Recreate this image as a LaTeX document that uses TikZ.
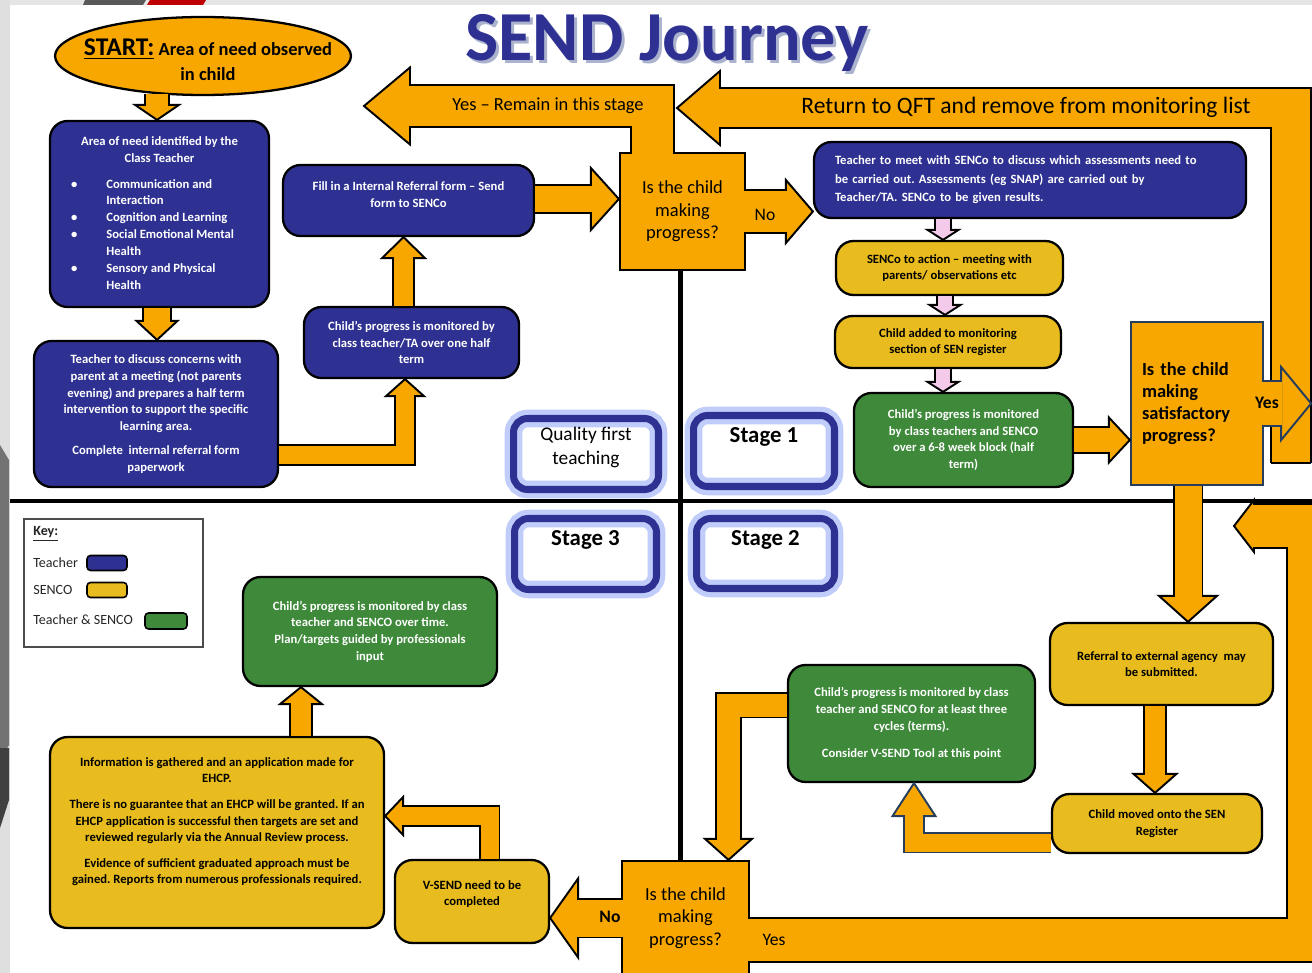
\documentclass[tikz,border=0pt]{standalone}
\usepackage{fontspec}
\setmainfont{Carlito}
\frenchspacing
\usetikzlibrary{calc,shapes.geometric}

\definecolor{tblue}{RGB}{46,49,146}
\definecolor{sorange}{RGB}{247,167,0}
\definecolor{syellow}{RGB}{232,187,30}
\definecolor{tgreen}{RGB}{62,138,58}
\definecolor{slate}{RGB}{38,62,92}
\definecolor{lpink}{RGB}{244,202,234}
\definecolor{glowblue}{RGB}{150,170,245}
\definecolor{titleshade}{RGB}{170,178,205}

\tikzset{
  box/.style={draw=black, line width=1.3pt, rounded corners=0.35cm, align=center,
    inner sep=2pt, font=\fontsize{7.2}{9.5}\selectfont\bfseries},
  tbox/.style={box, fill=tblue, text=white},
  sbox/.style={box, fill=syellow, text=black},
  gbox/.style={box, fill=tgreen, text=white},
  ask/.style={draw=black, line width=1.3pt, fill=sorange, align=center, inner sep=2pt,
    font=\fontsize{10.5}{12.8}\selectfont},
  stagebox/.style={draw=tblue, line width=4pt, rounded corners=0.28cm, align=center,
    preaction={fill=white}, preaction={draw=glowblue, line width=10pt, opacity=0.6},
    inner sep=2pt, font=\fontsize{13}{13.5}\selectfont\bfseries},
  shaft/.style={draw=black, line width=1.1pt, double=sorange, double distance=#1,
    shorten >=-0.7pt},
  pinkshaft/.style={shaft=#1, double=lpink},
  headstyle/.style={draw=black, fill=sorange, line width=1.1pt},
  pics/head/.style args={#1/#2}{code={
    \draw[headstyle] (0,0) -- (-#1,#2/2) -- (-#1,-#2/2) -- cycle;
    \coordinate (-base) at (-#1,0);
  }},
  lbl/.style={font=\fontsize{10}{12}\selectfont, inner sep=0pt},
  keyfont/.style={font=\fontsize{8}{9}\selectfont, inner sep=0pt, anchor=west, text=black!85},
  swatch/.style={draw=black, line width=0.9pt, rounded corners=2pt, inner sep=0pt,
    minimum width=0.8cm, minimum height=0.3cm},
}

\begin{document}
\begin{tikzpicture}[x=0.02cm, y=-0.02cm]
  \useasboundingbox (0,0) rectangle (1312,973);
  \clip (0,0) rectangle (1312,973);

  \fill[white] (0,0) rectangle (1312,973);
  \fill[gray!20] (0,0) rectangle (1312,5);
  \fill[gray!25] (0,0) rectangle (10,973);
  \fill[black!65] (85,0) -- (146,0) -- (143,5) -- (83,5) -- cycle;
  \fill[red!75!black] (150,0) -- (206,0) -- (203,5) -- (147,5) -- cycle;
  \fill[black!55] (0,445) -- (9,460) -- (9,745) -- (0,760) -- cycle;
  \fill[black!75] (0,748) -- (9,748) -- (9,800) -- (0,828) -- cycle;

  \node[font=\fontsize{40}{44}\selectfont\bfseries, text=tblue] (title) at (667,44)
    {\rlap{\hspace{1.7pt}\raisebox{-1.7pt}{\color{titleshade}SEND Journey}}SEND Journey};

  \node[ellipse, draw=black, line width=1.3pt, fill=sorange, minimum width=5.92cm,
    minimum height=1.56cm, inner sep=0pt] (start) at (203,56) {};
  \node[align=center, inner sep=0pt, font=\fontsize{10.5}{14}\selectfont\bfseries] (starttext) at ($(start.center)+(5,4)$)
    {{\fontsize{14.5}{14}\selectfont\underline{START:}} Area of need observed\\in child};

  \node[tbox, minimum width=4.38cm, minimum height=3.72cm, font=\fontsize{7.2}{9.6}\selectfont\bfseries] (need) at (159.5,214) {%
    \begin{tabular}{@{}l@{\hspace{5.8mm}}l@{\hspace{2.8mm}}}
      \multicolumn{2}{@{}c@{}}{Area of need identified by the}\\
      \multicolumn{2}{@{}c@{}}{Class Teacher}\\[5pt]
      \textbullet & Communication and\\
                  & Interaction\\
      \textbullet & Cognition and Learning\\
      \textbullet & Social Emotional Mental\\
                  & Health\\
      \textbullet & Sensory and Physical\\
                  & Health
    \end{tabular}};
  \node[tbox, minimum width=4.88cm, minimum height=2.92cm] (meet) at (156,414)
    {Teacher to discuss concerns with\\parent at a meeting (not parents\\evening) and prepares a half term\\intervention to support the specific\\learning area.\\[4pt]Complete \ internal referral form\\paperwork};
  \node[tbox, minimum width=4.3cm, minimum height=1.42cm] (watch) at (411.5,342.5)
    {Child’s progress is monitored by\\class teacher/TA over one half\\term};
  \node[tbox, minimum width=5.02cm, minimum height=1.42cm] (referral) at (408.5,200.5)
    {Fill in a Internal Referral form -- Send\\form to SENCo\\[-2.7pt]\mbox{}};
  \node[ask, minimum width=2.5cm, minimum height=2.34cm] (askone) at (682.5,211.5)
    {Is the child\\making\\progress?};
  \node[tbox, minimum width=8.64cm, minimum height=1.52cm, text width=7.8cm, align=left,
    font=\fontsize{7.2}{10.5}\selectfont\bfseries] (assess) at (1030,180)
    {Teacher to meet with SENCo to discuss which assessments need to\\be carried out. Assessments (eg SNAP) are carried out by\\Teacher/TA. SENCo to be given results.};
  \node[sbox, minimum width=4.54cm, minimum height=1.08cm] (action) at (949.5,268)
    {SENCo to action -- meeting with\\parents/ observations etc};
  \node[sbox, minimum width=4.52cm, minimum height=1.04cm] (added) at (948,342)
    {Child added to monitoring\\section of SEN register};
  \node[gbox, minimum width=4.38cm, minimum height=1.88cm] (monitor) at (963.5,440)
    {Child’s progress is monitored\\by class teachers and SENCO\\over a 6-8 week block (half\\term)};
  \node[ask, draw=slate, minimum width=2.64cm, minimum height=3.26cm, text width=2.2cm,
    align=left, font=\fontsize{10.5}{12.5}\selectfont\bfseries] (asktwo) at (1197,403.5)
    {Is the child\\making\\satisfactory\\progress?};

  \node[sbox, minimum width=4.46cm, minimum height=1.64cm] (external) at (1161.5,664)
    {Referral to external agency \ may\\be submitted.};
  \node[sbox, minimum width=4.2cm, minimum height=1.18cm] (register) at (1157,823.5)
    {Child moved onto the SEN\\Register};
  \node[gbox, minimum width=4.94cm, minimum height=2.34cm] (cycles) at (911.5,723.5)
    {Child’s progress is monitored by class\\teacher and SENCO for at least three\\cycles (terms).\\[6pt]Consider V-SEND Tool at this point};
  \node[ask, minimum width=2.54cm, minimum height=2.28cm] (askthree) at (685.5,918)
    {Is the child\\making\\progress?};
  \node[sbox, minimum width=3.08cm, minimum height=1.66cm] (vsend) at (472,901.5)
    {V-SEND need to be\\completed\\\mbox{}};
  \node[sbox, minimum width=6.68cm, minimum height=3.82cm] (ehcp) at (217,832.5)
    {Information is gathered and an application made for\\EHCP.\\[5pt]There is no guarantee that an EHCP will be granted. If an\\EHCP application is successful then targets are set and\\reviewed regularly via the Annual Review process.\\[5pt]Evidence of sufficient graduated approach must be\\gained. Reports from numerous professionals required.\\[4pt]\mbox{}};
  \node[gbox, minimum width=5.08cm, minimum height=2.18cm] (overtime) at (370,631.5)
    {Child’s progress is monitored by class\\teacher and SENCO over time.\\Plan/targets guided by professionals\\input};

  \node[stagebox, minimum width=2.9cm, minimum height=1.42cm,
    font=\fontsize{11}{13.5}\selectfont] (qft) at (586,454) {Quality first\\teaching\\[-4.5pt]\mbox{}};
  \node[stagebox, minimum width=2.82cm, minimum height=1.42cm] (stageone) at (764,451) {Stage 1\\[4.5pt]\mbox{}};
  \node[stagebox, minimum width=2.84cm, minimum height=1.42cm] (stagethree) at (585.5,554) {Stage 3\\[4.5pt]\mbox{}};
  \node[stagebox, minimum width=2.76cm, minimum height=1.4cm] (stagetwo) at (765.5,553.5) {Stage 2\\[4.5pt]\mbox{}};

  \node[draw=black!70, line width=0.8pt, minimum width=3.58cm, minimum height=2.56cm] (key) at (113.5,583) {};
  \node[keyfont, font=\fontsize{8}{9}\selectfont\bfseries] (keytitle) at (33,534) {\underline{Key:}};
  \node[keyfont] (keyteacher) at (33,563) {Teacher};
  \node[keyfont] (keysenco) at (33,590) {SENCO};
  \node[keyfont] (keyboth) at (33,620) {Teacher \& SENCO};
  \node[swatch, fill=tblue] (swteacher) at (107,563) {};
  \node[swatch, fill=syellow] (swsenco) at (107,590) {};
  \node[swatch, fill=tgreen, minimum width=0.84cm, minimum height=0.32cm] (swboth) at (166,621) {};

  \draw[line width=2.3pt] (10,501) -- (1312,501);
  \draw[line width=2.3pt] ($(askone.south)+(-2,0)$) -- ($(askone.south |- askthree.north)+(-2,0)$);

  % teacher side
  \pic[rotate=-90] (h1) at (need.north -| 157,0) {head=15/44};
  \draw[shaft=0.46cm] (h1-base |- start.218) -- (h1-base);
  \pic[rotate=-90] (h2) at (meet.north -| 157,0) {head=19/41};
  \draw[shaft=0.54cm] (h2-base |- need.south) -- (h2-base);
  \pic[rotate=90] (h3) at (watch.south -| 405,0) {head=17/38};
  \draw[shaft=0.36cm] (meet.east |- 0,455) -| (h3-base);
  \pic[rotate=90] (h4) at (referral.south -| 403.5,0) {head=21/43};
  \draw[shaft=0.38cm] (h4-base |- watch.north) -- (h4-base);
  \pic (h5) at (askone.west |- 0,199) {head=28/62};
  \draw[shaft=0.52cm] (referral.east |- h5-base) -- (h5-base);

  \pic (h6) at (assess.west |- askone.east) {head=27/63};
  \draw[shaft=0.82cm, shorten <=-1.4pt] (askone.east) -- (h6-base);
  \node[lbl] (nolabel) at (765,215) {No};

  \coordinate (stayend) at (364,106);
  \pic[rotate=180] (h7) at (stayend) {head=46/77};
  \draw[shaft=0.82cm, shorten <=-1.4pt] (askone.north -| 652.5,0) |- (h7-base);
  \node[lbl, font=\fontsize{10.5}{12}\selectfont] (staylabel) at (548,106) {Yes -- Remain in this stage};

  \coordinate (returnend) at (677,108);
  \coordinate (returnstart) at (1291,463);
  \pic[rotate=180] (h8) at (returnend) {head=43/74};
  \draw[shaft=0.76cm] (returnstart) |- (h8-base);
  \draw[line width=1.1pt] ($(returnstart)+(-20,0)$) -- ($(returnstart)+(20,0)$);
  \node[lbl, font=\fontsize{13.4}{15}\selectfont] (returnlabel) at (1026,107) {Return to QFT and remove from monitoring list};

  % stage 1
  \pic[rotate=-90, headstyle/.append style={fill=lpink}] (h9) at (action.north -| 943,0) {head=10/31};
  \draw[pinkshaft=0.28cm] (h9-base |- assess.south) -- (h9-base);
  \pic[rotate=-90, headstyle/.append style={fill=lpink}] (h10) at (added.north -| 945,0) {head=10/31};
  \draw[pinkshaft=0.28cm] (h10-base |- action.south) -- (h10-base);
  \pic[rotate=-90, headstyle/.append style={fill=lpink}] (h11) at (monitor.north -| 943,0) {head=10/31};
  \draw[pinkshaft=0.28cm] (h11-base |- added.south) -- (h11-base);

  \pic (h12) at ($(asktwo.west)+(0,36.5)$) {head=21/45};
  \draw[shaft=0.48cm] (monitor.east |- h12-base) -- (h12-base);

  \coordinate (yesend) at ($(asktwo.east)+(47,0)$);
  \pic[headstyle/.append style={draw=slate}] (h13) at (yesend) {head=30/73};
  \draw[shaft=0.86cm, draw=slate, shorten <=-1.4pt] (asktwo.east) -- (h13-base);
  \node[lbl, font=\fontsize{10}{12}\selectfont\bfseries] (yeslabel) at (1267,403) {Yes};

  % stage 2
  \pic[rotate=-90] (h14) at (external.north -| 1188,0) {head=26/58};
  \draw[shaft=0.54cm] (h14-base |- asktwo.south) -- (h14-base);
  \pic[rotate=-90] (h15) at (register.north -| 1155,0) {head=19/43};
  \draw[shaft=0.4cm] (h15-base |- external.south) -- (h15-base);
  \pic[rotate=90, headstyle/.append style={draw=slate}] (h16) at (cycles.south -| 914,0) {head=33/43};
  \draw[shaft=0.36cm, draw=slate] ($(register.west)+(0,19)$) -| (h16-base);
  \pic[rotate=-90] (h17) at (askthree.north -| 728.5,0) {head=21/47};
  \draw[shaft=0.46cm] ($(cycles.west)+(0,-18.5)$) -| (h17-base);

  \coordinate (backend) at (1234,526);
  \coordinate (backcorner) at (1309,940);
  \pic[rotate=180] (h19) at (backend) {head=20/52};
  \draw[shaft=0.84cm, shorten <=-1.4pt] ($(askthree.east)+(0,22)$) -- (backcorner) |- (h19-base);
  \node[lbl] (backlabel) at (774,940) {Yes};

  % stage 3
  \pic[rotate=180] (h18) at (vsend.east |- askthree.west) {head=28/79};
  \draw[shaft=0.74cm, shorten <=-1.4pt] (askthree.west) -- (h18-base);
  \node[lbl, font=\fontsize{10}{12}\selectfont\bfseries] (nolabelthree) at (610,917) {No};
  \pic[rotate=180] (h20) at (ehcp.east |- 0,816) {head=18/38};
  \draw[shaft=0.36cm] (vsend.north -| 489.5,0) |- (h20-base);
  \pic[rotate=90] (h21) at (overtime.south -| 301,0) {head=17/42};
  \draw[shaft=0.4cm] (h21-base |- ehcp.north) -- (h21-base);
\end{tikzpicture}
\end{document}
